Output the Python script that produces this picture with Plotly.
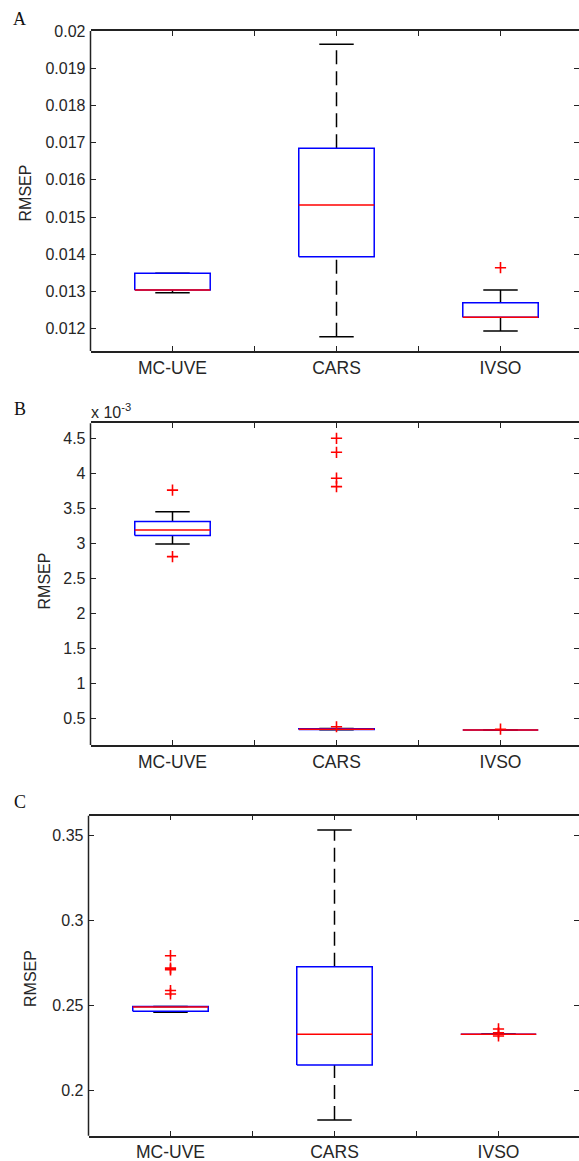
import plotly.graph_objects as go

# ---------------- data ----------------
categories = ["MC-UVE", "CARS", "IVSO"]

# Panel A
a_lower_whisker = [0.012965, 0.011782, 0.011935]
a_q1 = [0.013038, 0.013933, 0.012304]
a_median = [0.013038, 0.015323, 0.012304]
a_q3 = [0.013487, 0.016847, 0.012696]
a_upper_whisker = [0.013487, 0.019642, 0.013040]
a_outliers = [[], [], [0.013637]]
a_ticks = [0.012, 0.013, 0.014, 0.015, 0.016, 0.017, 0.018, 0.019, 0.020]
a_ticktext = ["0.012", "0.013", "0.014", "0.015", "0.016", "0.017", "0.018", "0.019", "0.02"]

# Panel B
b_lower_whisker = [0.00299, 0.000336, 0.000333]
b_q1 = [0.00311, 0.000340, 0.000333]
b_median = [0.00319, 0.000344, 0.000333]
b_q3 = [0.00331, 0.000352, 0.000333]
b_upper_whisker = [0.00345, 0.000356, 0.000333]
b_outliers = [[0.00376, 0.00281], [0.00038, 0.00381, 0.00393, 0.00430, 0.00450], [0.000345]]
b_ticks = [0.0005, 0.0010, 0.0015, 0.0020, 0.0025, 0.0030, 0.0035, 0.0040, 0.0045]
b_ticktext = ["0.5", "1", "1.5", "2", "2.5", "3", "3.5", "4", "4.5"]

# Panel C
c_lower_whisker = [0.2457, 0.1824, 0.2328]
c_q1 = [0.2463, 0.2147, 0.2328]
c_median = [0.2488, 0.2328, 0.2328]
c_q3 = [0.2491, 0.2725, 0.2328]
c_upper_whisker = [0.2491, 0.3529, 0.2328]
c_outliers = [[0.2790, 0.2717, 0.2707, 0.2585, 0.2565], [], [0.2359, 0.2337, 0.2318]]
c_ticks = [0.20, 0.25, 0.30, 0.35]
c_ticktext = ["0.2", "0.25", "0.3", "0.35"]

# ---------------- style ----------------
W, H = 579, 1161
BOX_HW = 0.23
CAP_HW = 0.105
AX_COLOR = "#222222"
FONT = "Liberation Sans, Arial, sans-serif"

fig = go.Figure()


def add_panel(xref, yref, lw, q1, med, q3, uw, outs):
    pos = [i + 1 for i in range(len(categories))]
    # whiskers (dashed)
    wx, wy = [], []
    for p, a, b, c, d in zip(pos, lw, q1, q3, uw):
        wx += [p, p, None, p, p, None]
        wy += [a, b, None, c, d, None]
    fig.add_trace(go.Scatter(x=wx, y=wy, xaxis=xref, yaxis=yref, mode="lines",
                             line=dict(color="black", width=1.5, dash="14px,7px"),
                             hoverinfo="skip", showlegend=False))
    # caps
    cx, cy = [], []
    for p, a, d in zip(pos, lw, uw):
        cx += [p - CAP_HW, p + CAP_HW, None, p - CAP_HW, p + CAP_HW, None]
        cy += [a, a, None, d, d, None]
    fig.add_trace(go.Scatter(x=cx, y=cy, xaxis=xref, yaxis=yref, mode="lines",
                             line=dict(color="black", width=1.5),
                             hoverinfo="skip", showlegend=False))
    # boxes
    bx, by = [], []
    for p, b, c in zip(pos, q1, q3):
        bx += [p - BOX_HW, p + BOX_HW, p + BOX_HW, p - BOX_HW, p - BOX_HW, None]
        by += [b, b, c, c, b, None]
    fig.add_trace(go.Scatter(x=bx, y=by, xaxis=xref, yaxis=yref, mode="lines",
                             line=dict(color="#0000ff", width=1.5),
                             hoverinfo="skip", showlegend=False))
    # medians
    mx, my = [], []
    for p, m in zip(pos, med):
        mx += [p - BOX_HW, p + BOX_HW, None]
        my += [m, m, None]
    fig.add_trace(go.Scatter(x=mx, y=my, xaxis=xref, yaxis=yref, mode="lines",
                             line=dict(color="#ff0000", width=1.5),
                             hoverinfo="skip", showlegend=False))
    # outliers
    ox, oy = [], []
    for p, o in zip(pos, outs):
        ox += [p] * len(o)
        oy += list(o)
    fig.add_trace(go.Scatter(x=ox, y=oy, xaxis=xref, yaxis=yref, mode="markers",
                             marker=dict(symbol="cross-thin", size=8,
                                         line=dict(color="#ff0000", width=1.6)),
                             hoverinfo="skip", showlegend=False))


add_panel("x", "y", a_lower_whisker, a_q1, a_median, a_q3, a_upper_whisker, a_outliers)
add_panel("x2", "y2", b_lower_whisker, b_q1, b_median, b_q3, b_upper_whisker, b_outliers)
add_panel("x3", "y3", c_lower_whisker, c_q1, c_median, c_q3, c_upper_whisker, c_outliers)

PX_PER_UNIT = 164.0


def xaxis_def(left_px, label_size=17.5):
    right_val = 0.5 + (W - left_px) / PX_PER_UNIT
    return dict(
        domain=[left_px / W, 1.0], range=[0.5, right_val],
        tickmode="array", tickvals=[1, 2, 3], ticktext=categories,
        ticks="inside", ticklen=5, tickwidth=1.3, tickcolor=AX_COLOR,
        minor=dict(tickmode="array", tickvals=[1.5, 2.5], ticks="inside",
                   ticklen=5, tickwidth=1.3, tickcolor=AX_COLOR),
        showline=True, linecolor=AX_COLOR, linewidth=1.5, mirror="ticks",
        showgrid=False, zeroline=False, fixedrange=True,
        tickfont=dict(family=FONT, size=label_size, color="#262626"),
    )


def yaxis_def(top_px, bottom_px, rng, tickvals, ticktext):
    return dict(
        domain=[1 - bottom_px / H, 1 - top_px / H], range=rng,
        tickmode="array", tickvals=tickvals, ticktext=ticktext,
        ticks="inside", ticklen=5, tickwidth=1.3, tickcolor=AX_COLOR,
        showline=False, mirror="ticks",
        showgrid=False, zeroline=False, fixedrange=True,
        ticklabelstandoff=4,
        tickfont=dict(family=FONT, size=16, color="#262626"),
    )


A_TOP, A_BOT, A_LEFT = 31, 351, 90.5
B_TOP, B_BOT, B_LEFT = 423.3, 745, 90.5
C_TOP, C_BOT, C_LEFT = 815.7, 1135.7, 88.5

fig.update_layout(
    width=W, height=H,
    margin=dict(l=0, r=0, t=0, b=0, autoexpand=False),
    paper_bgcolor="white", plot_bgcolor="white",
    showlegend=False,
    xaxis=dict(anchor="y", **xaxis_def(A_LEFT)),
    yaxis=dict(anchor="x", **yaxis_def(A_TOP, A_BOT, [0.011398, 0.020], a_ticks, a_ticktext)),
    xaxis2=dict(anchor="y2", **xaxis_def(B_LEFT)),
    yaxis2=dict(anchor="x2", **yaxis_def(B_TOP, B_BOT, [0.000119, 0.004714], b_ticks, b_ticktext)),
    xaxis3=dict(anchor="y3", **xaxis_def(C_LEFT)),
    yaxis3=dict(anchor="x3", **yaxis_def(C_TOP, C_BOT, [0.17312, 0.36135], c_ticks, c_ticktext)),
)

# left spines
for xr, yr in [("x", "y"), ("x2", "y2"), ("x3", "y3")]:
    fig.add_shape(type="line", xref=f"{xr} domain", yref=f"{yr} domain",
                  x0=0, x1=0, y0=0, y1=1,
                  line=dict(color=AX_COLOR, width=1.5))

# y-axis titles
for xp, yp in [(25, 193.5), (43.5, 581), (30, 978)]:
    fig.add_annotation(text="RMSEP", x=xp / W, y=1 - yp / H, xref="paper", yref="paper",
                       xanchor="center", yanchor="middle", textangle=-90, showarrow=False,
                       font=dict(family=FONT, size=16, color="#262626"))

# panel letters
for letter, xp, yp in [("A", 19, 19), ("B", 19.5, 409), ("C", 19.5, 802)]:
    fig.add_annotation(text=letter, x=xp / W, y=1 - yp / H, xref="paper", yref="paper",
                       xanchor="center", yanchor="middle", showarrow=False,
                       font=dict(family="Liberation Serif, Times New Roman, serif", size=18,
                                 color="#111111"))

# exponent label for panel B
fig.add_annotation(text="x 10<sup>-3</sup>", x=89 / W, y=1 - 411 / H, xref="paper", yref="paper",
                   xanchor="left", yanchor="middle", showarrow=False,
                   font=dict(family=FONT, size=16, color="#262626"))

fig.write_html("out.html")
